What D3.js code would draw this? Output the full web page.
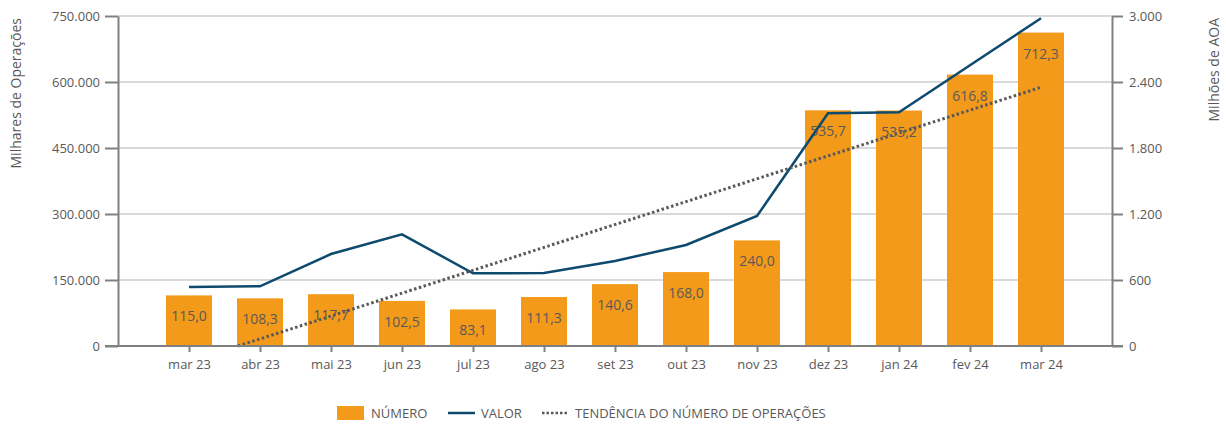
<!DOCTYPE html>
<html>
<head>
<meta charset="utf-8">
<script src="https://cdn.jsdelivr.net/npm/d3@7"></script>
<style>
  body { margin: 0; background: #fff; }
  text { font-family: "Open Sans", sans-serif; fill: #595959; }
</style>
</head>
<body>
<div id="graph1"></div>
<script>
const months = ["mar 23", "abr 23", "mai 23", "jun 23", "jul 23", "ago 23", "set 23",
  "out 23", "nov 23", "dez 23", "jan 24", "fev 24", "mar 24"]
const numero = [115.0, 108.3, 117.7, 102.5, 83.1, 111.3, 140.6, 168.0, 240.0, 535.7, 535.2, 616.8, 712.3]
const valor = [536, 543, 836, 1015, 661, 663, 773, 918, 1182, 2115, 2124, 2552, 2979]
// tendência: início (índice do mês onde cruza o zero) e fim
const trend = [{ i: 0.69, v: 0 }, { i: 12, v: 588 }]
const leftTicks = [0, 150, 300, 450, 600, 750]
const rightTicks = [0, 600, 1200, 1800, 2400, 3000]

const W = 1226, H = 424
const margin = { top: 16, right: 114, bottom: 78, left: 118 }
const width = W - margin.left - margin.right
const height = H - margin.top - margin.bottom

const fmt = d3.formatLocale({ decimal: ",", thousands: ".", grouping: [3], currency: ["", ""] })
const fmtTick = fmt.format(",d")
const fmtBar = fmt.format(",.1f")

const svg = d3.select("#graph1").append("svg")
  .attr("width", W).attr("height", H)
const g = svg.append("g")
  .attr("transform", "translate(" + margin.left + "," + margin.top + ")")

const x = d3.scalePoint().domain(months).range([0, width]).padding(1)
const xi = d3.scaleLinear().domain([0, months.length - 1]).range([x(months[0]), x(months[months.length - 1])])
const yL = d3.scaleLinear().domain([0, 750]).range([height, 0])
const yR = d3.scaleLinear().domain([0, 3000]).range([height, 0])
const barW = 46

// grelha
g.selectAll(".grid").data(leftTicks.slice(1)).enter().append("line")
  .attr("x1", 0).attr("x2", width)
  .attr("y1", d => yL(d)).attr("y2", d => yL(d))
  .attr("stroke", "#d9d9d9").attr("stroke-width", 2)

// barras
g.selectAll(".bar").data(numero).enter().append("rect")
  .attr("x", (d, i) => x(months[i]) - barW / 2)
  .attr("y", d => yL(d))
  .attr("width", barW)
  .attr("height", d => height - yL(d))
  .attr("fill", "#f39a1b")

g.selectAll(".lbl").data(numero).enter().append("text")
  .attr("x", (d, i) => x(months[i]))
  .attr("y", d => yL(d) + 26)
  .attr("text-anchor", "middle")
  .style("font-size", "14px")
  .text(d => fmtBar(d))

// linha VALOR
g.append("path").datum(valor)
  .attr("fill", "none").attr("stroke", "#0d4a6e").attr("stroke-width", 2.5)
  .attr("d", d3.line().x((d, i) => x(months[i])).y(d => yR(d)))

// tendência
g.append("path").datum(trend)
  .attr("fill", "none").attr("stroke", "#595959").attr("stroke-width", 3)
  .attr("stroke-dasharray", "2.5,2.5")
  .attr("d", d3.line().x(d => xi(d.i)).y(d => yL(d.v)))

// eixos
function styleAxis(sel) {
  sel.select(".domain").attr("stroke", "#808080").attr("stroke-width", 2)
  sel.selectAll(".tick line").attr("stroke", "#808080").attr("stroke-width", 2)
  sel.selectAll(".tick text").style("font-size", "13px").attr("fill", "#595959")
}

g.append("g")
  .call(d3.axisLeft(yL).tickValues(leftTicks).tickFormat(d => fmtTick(d * 1000)).tickSize(13).tickSizeOuter(0).tickPadding(5))
  .call(styleAxis)

g.append("g")
  .attr("transform", "translate(" + width + ",0)")
  .call(d3.axisRight(yR).tickValues(rightTicks).tickFormat(fmtTick).tickSize(11).tickSizeOuter(0).tickPadding(6))
  .call(styleAxis)

const xa = g.append("g")
  .attr("transform", "translate(0," + height + ")")
  .call(d3.axisBottom(x).tickSize(6).tickSizeOuter(0).tickPadding(8))
  .call(styleAxis)
xa.select(".domain").attr("d", "M-13,0H" + (width + 11))

// títulos dos eixos
svg.append("text")
  .attr("transform", "translate(21,18) rotate(-90)")
  .attr("text-anchor", "end")
  .style("font-size", "14px")
  .text("Milhares de Operações")
svg.append("text")
  .attr("transform", "translate(1219,18) rotate(-90)")
  .attr("text-anchor", "end")
  .style("font-size", "14px")
  .text("Milhões de AOA")

// legenda
const lg = svg.append("g").attr("transform", "translate(0,413)")
lg.append("rect").attr("x", 337).attr("y", -7).attr("width", 27).attr("height", 14).attr("fill", "#f39a1b")
lg.append("text").attr("x", 371).attr("y", 5).style("font-size", "13px").text("NÚMERO")
lg.append("line").attr("x1", 448).attr("x2", 475).attr("y1", 0).attr("y2", 0)
  .attr("stroke", "#0d4a6e").attr("stroke-width", 2.5)
lg.append("text").attr("x", 481).attr("y", 5).style("font-size", "13px").text("VALOR")
lg.append("line").attr("x1", 542).attr("x2", 568).attr("y1", 0).attr("y2", 0)
  .attr("stroke", "#595959").attr("stroke-width", 2.5).attr("stroke-dasharray", "2.5,2")
lg.append("text").attr("x", 575).attr("y", 5).style("font-size", "13px").text("TENDÊNCIA DO NÚMERO DE OPERAÇÕES")
</script>
</body>
</html>
